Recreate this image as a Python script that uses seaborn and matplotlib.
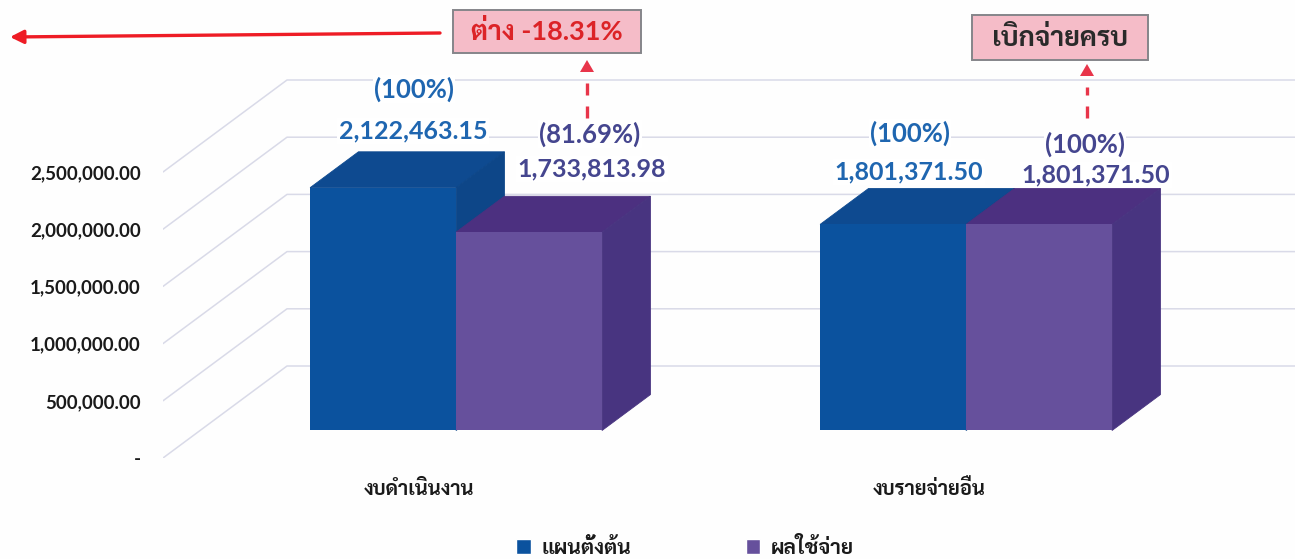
import pandas as pd
import matplotlib
matplotlib.use('Agg')
import matplotlib.pyplot as plt
import seaborn as sns
from matplotlib.lines import Line2D
from matplotlib.patches import Polygon, Rectangle
from matplotlib.transforms import Affine2D, IdentityTransform

# data
categories = ['งบดำเนินงาน', 'งบรายจ่ายอื่น']
series_names = ['แผนตั้งต้น', 'ผลใช้จ่าย']
plan_values = [2122463.15, 1801371.50]
spent_values = [1733813.98, 1801371.50]
plan_pct = ['(100%)', '(100%)']
spent_pct = ['(81.69%)', '(100%)']
y_ticks = [0, 500000, 1000000, 1500000, 2000000, 2500000]
y_labels = ['-', '500,000.00', '1,000,000.00', '1,500,000.00', '2,000,000.00', '2,500,000.00']

W, H = 1295, 559
sns.set_theme(style='white')
plt.rcParams['font.family'] = ['Lato', 'Sarabun', 'Bai Jamjuree', 'Noto Sans Thai', 'DejaVu Sans']

FRONT = ['#0b529e', '#66509c']
TOP = ['#0e4a90', '#4c3080']
SIDE = ['#0d4688', '#483480']
TEXT = ['#1f66b0', '#45468f']
GRID = '#d9dae8'
RED = '#ee1c25'

# fake 3d: how far the back wall sits from the floor front, in pixels
DX, DY = 124, 92
BAR_FRONT = 0.299
BAR_DEPTH = 0.39


def fig_xy(px, py):
    return px / W, 1 - py / H


df = pd.DataFrame({
    'category': categories * 2,
    'series': [series_names[0]] * 2 + [series_names[1]] * 2,
    'value': plan_values + spent_values,
})

fig = plt.figure(figsize=(W / 100, H / 100), dpi=100, facecolor='#fefefe')
ax = fig.add_axes([163 / W, 1 - 458 / H, (W - 163) / W, 458 / H])
ax.patch.set_visible(False)

sns.barplot(data=df, x='category', y='value', hue='series', palette=FRONT,
            width=0.5725, gap=0, saturation=1, ax=ax)
ax.set_xlim(-256 / 510, 876 / 510)
ax.set_ylim(0, 458 / 57.2 * 500000)
ax.set_xlabel('')
ax.set_ylabel('')
sns.despine(ax=ax, left=True, bottom=True)


def to_px(x, v, frac=0.0):
    xd, yd = ax.transData.transform((x, v))
    return xd + frac * DX, yd + frac * DY


# floor lines and back wall lines
x0, x1 = ax.get_xlim()
for v in y_ticks:
    ax.add_line(Line2D(*zip(to_px(x0, v), to_px(x0, v, 1), to_px(x1, v, 1)),
                       transform=IdentityTransform(), color=GRID, lw=1.1, zorder=1))

# shift the seaborn bars forward and add the top and side faces
shift = ax.transData + Affine2D().translate(BAR_FRONT * DX, BAR_FRONT * DY)
for i, container in enumerate(ax.containers):
    for bar in container:
        bar.set_transform(shift)
        bar.set_linewidth(0)
        bar.set_zorder(3 + i + 0.5)
        left, right, h = bar.get_x(), bar.get_x() + bar.get_width(), bar.get_height()
        back = BAR_FRONT + BAR_DEPTH
        top = [to_px(left, h, BAR_FRONT), to_px(left, h, back),
               to_px(right, h, back), to_px(right, h, BAR_FRONT)]
        side = [to_px(right, h, BAR_FRONT), to_px(right, h, back),
                to_px(right, 0, back), to_px(right, 0, BAR_FRONT)]
        ax.add_patch(Polygon(top, transform=IdentityTransform(), fc=TOP[i], ec=TOP[i], lw=0.6, zorder=3 + i))
        ax.add_patch(Polygon(side, transform=IdentityTransform(), fc=SIDE[i], ec=SIDE[i], lw=0.6, zorder=3 + i))

ax.set_yticks(y_ticks, y_labels, fontsize=13.5, fontweight='bold', color='#1a1a1a')
ax.tick_params(axis='y', length=0, pad=16)
ax.tick_params(axis='x', length=0, pad=15)
for lab in ax.get_xticklabels():
    lab.set_fontsize(14.5)
    lab.set_fontweight('bold')
    lab.set_color('#1a1a1a')

sns.move_legend(ax, 'center', bbox_to_anchor=fig_xy(685, 547), bbox_transform=fig.transFigure,
                ncol=2, title=None, frameon=False, fontsize=15, handlelength=0.7, handleheight=0.7,
                handletextpad=0.5, columnspacing=5.5)
for t in ax.get_legend().get_texts():
    t.set_fontweight('bold')
    t.set_color('#1a1a1a')

# value labels, placed by hand like the original
value_pos = [(413, 131), (909, 172), (592, 169), (1096, 175)]
pct_pos = [(414, 89), (910, 133), (590, 134), (1085, 144)]
value_text = [f'{v:,.2f}' for v in plan_values + spent_values]
pct_text = plan_pct + spent_pct
for i in range(4):
    color = TEXT[i // 2]
    box = dict(fc='white', ec='none', pad=1)
    fig.text(*fig_xy(*value_pos[i]), value_text[i], color=color, fontsize=18, fontweight='bold',
             ha='center', va='center', bbox=box, zorder=8)
    fig.text(*fig_xy(*pct_pos[i]), pct_text[i], color=color, fontsize=18.5, fontweight='bold',
             ha='center', va='center', bbox=box, zorder=8)

# callout boxes
for (bx0, by0, bx1, by1), txt, col in [((453, 10, 641, 53), 'ต่าง -18.31%', '#dc2327'),
                                       ((972, 15, 1148, 60), 'เบิกจ่ายครบ', '#2a2a2a')]:
    fig.add_artist(Rectangle(fig_xy(bx0, by1), (bx1 - bx0) / W, (by1 - by0) / H, transform=fig.transFigure,
                             fc='#f5bcc8', ec='#85858a', lw=1.4))
    fig.text(*fig_xy((bx0 + bx1) / 2, (by0 + by1) / 2), txt, color=col, fontsize=19.5, fontweight='bold',
             ha='center', va='center', zorder=9)

# dashed arrows up to the callouts
for ax_x, head_y in [(587, 60), (1087, 64)]:
    fig.add_artist(Line2D(*zip(fig_xy(ax_x, 118), fig_xy(ax_x, head_y + 23)), transform=fig.transFigure,
                          color='#e8354a', lw=2.4, dashes=(3.6, 3.3)))
    fig.add_artist(Polygon([fig_xy(ax_x, head_y), fig_xy(ax_x - 7, head_y + 12), fig_xy(ax_x + 7, head_y + 12)],
                           transform=fig.transFigure, fc='#e8354a', ec='none'))

# long red arrow to the left
ax.annotate('', xy=fig_xy(10, 37), xytext=fig_xy(440, 33), xycoords='figure fraction',
            textcoords='figure fraction',
            arrowprops=dict(arrowstyle='-|>', color=RED, lw=2.4, mutation_scale=20, shrinkA=0, shrinkB=0))

fig.savefig('out.png', dpi=100, facecolor=fig.get_facecolor())
